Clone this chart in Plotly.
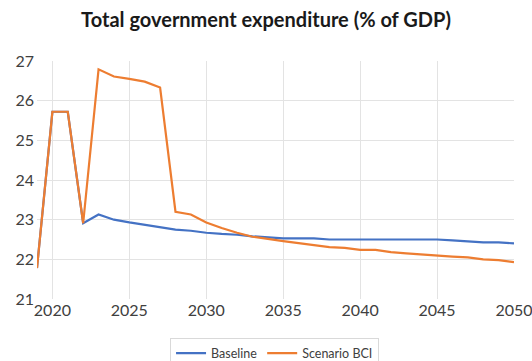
import plotly.graph_objects as go

years = list(range(2019, 2051))
baseline = [21.78, 25.72, 25.72, 22.91, 23.13, 23.0, 22.93, 22.87, 22.8, 22.75,
            22.72, 22.67, 22.64, 22.62, 22.58, 22.56, 22.53, 22.53, 22.53, 22.5,
            22.5, 22.5, 22.5, 22.5, 22.5, 22.5, 22.5, 22.48, 22.46, 22.43, 22.43, 22.4]
scenario = [21.78, 25.72, 25.72, 22.91, 26.79, 26.61, 26.55, 26.48, 26.33, 23.2,
            23.13, 22.93, 22.79, 22.67, 22.57, 22.51, 22.46, 22.41, 22.36, 22.31,
            22.29, 22.24, 22.24, 22.18, 22.15, 22.12, 22.1, 22.07, 22.05, 22.0, 21.98, 21.93]
names = ["Baseline", "Scenario BCI"]
colors = ["#4472C4", "#ED7D31"]
title = "Total government expenditure (% of GDP)"

fig = go.Figure()
for name, vals, col in zip(names, [baseline, scenario], colors):
    fig.add_trace(go.Scatter(x=years, y=vals, name=name, mode="lines",
                             line=dict(color=col, width=2.2)))

font = "Lato, 'Open Sans', sans-serif"
fig.update_layout(
    width=532, height=361,
    margin=dict(l=37, r=18, t=61, b=62, autoexpand=False),
    paper_bgcolor="white", plot_bgcolor="white",
    title=dict(text="<b>" + title + "</b>", x=0.5, xanchor="center", y=0.945, yanchor="middle",
               font=dict(family=font, size=20, color="#1a1a1a")),
    font=dict(family=font, color="#404040"),
    xaxis=dict(range=[2019, 2050], tickvals=[2020, 2025, 2030, 2035, 2040, 2045, 2050],
               showgrid=True, gridcolor="#e3e3e3", gridwidth=1, zeroline=False,
               showline=False, tickfont=dict(size=16, color="#404040"), ticks="",
               ticklabeloverflow="allow"),
    yaxis=dict(range=[21, 27], dtick=1, showgrid=True, gridcolor="#e3e3e3", gridwidth=1,
               zeroline=False, showline=False, tickfont=dict(size=16, color="#404040"),
               ticks="", ticklabelstandoff=2),
    legend=dict(orientation="h", x=0.498, xanchor="center", y=-0.162, yanchor="top",
                bordercolor="#d9d9d9", borderwidth=1, font=dict(size=12.5, color="#404040"),
                itemwidth=30, tracegroupgap=0),
    showlegend=True,
)
fig.write_html("out.html")
